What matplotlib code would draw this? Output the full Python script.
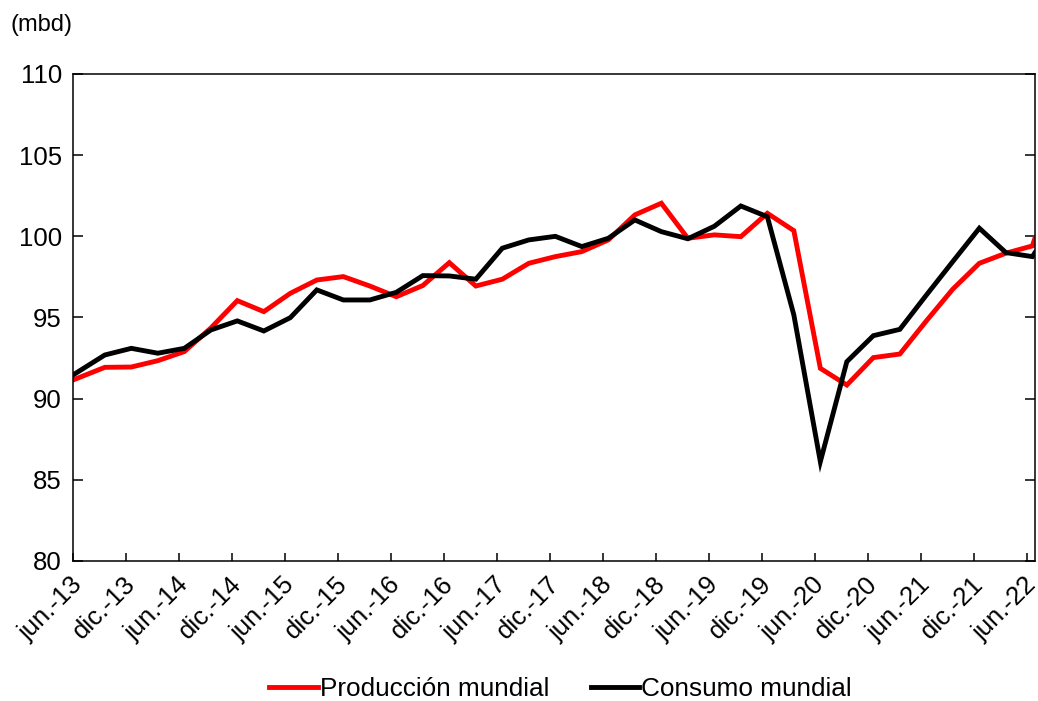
import numpy as np
import pandas as pd
import matplotlib
matplotlib.use('Agg')
import matplotlib.pyplot as plt
from matplotlib.transforms import ScaledTranslation

plt.rcParams['font.family'] = ['Liberation Sans', 'DejaVu Sans']

# quarterly world oil balance (mbd), Q3-2013 .. Q2-2022
quarters = pd.period_range('2013Q3', '2022Q2', freq='Q')

produccion = [91.93, 91.95, 92.34, 92.90, 94.35, 96.04, 95.36, 96.49, 97.31, 97.52,
              96.94, 96.28, 96.97, 98.38, 96.94, 97.36, 98.34, 98.75, 99.06, 99.78,
              101.32, 102.04, 99.88, 100.09, 99.98, 101.42, 100.35, 91.87, 90.84, 92.53,
              92.75, 94.79, 96.75, 98.34, 98.96, 99.41]
consumo = [92.69, 93.10, 92.80, 93.10, 94.23, 94.79, 94.17, 94.99, 96.70, 96.08,
           96.08, 96.55, 97.58, 97.56, 97.36, 99.27, 99.78, 100.00, 99.37, 99.88,
           101.01, 100.29, 99.85, 100.62, 101.87, 101.21, 95.16, 86.12, 92.28, 93.88,
           94.27, 96.38, 98.45, 100.50, 99.00, 98.75]

# values where the lines meet the left and right edges of the plot
edge_prod = [91.15, 99.90]
edge_cons = [91.46, 99.00]

tick_labels = ['jun.-13', 'dic.-13', 'jun.-14', 'dic.-14', 'jun.-15', 'dic.-15',
               'jun.-16', 'dic.-16', 'jun.-17', 'dic.-17', 'jun.-18', 'dic.-18',
               'jun.-19', 'dic.-19', 'jun.-20', 'dic.-20', 'jun.-21', 'dic.-21', 'jun.-22']

# x in months after jun-13; each quarter is dated mid last month
end_months = quarters.asfreq('M', 'end')
qx = np.array([(p.year - 2013) * 12 + p.month - 6 for p in end_months]) + 0.6
x_max = 108.9
x = np.r_[0, qx, x_max]
y_prod = np.r_[edge_prod[0], produccion, edge_prod[1]]
y_cons = np.r_[edge_cons[0], consumo, edge_cons[1]]

fig = plt.figure(figsize=(10.38, 7.01), dpi=100)
ax = fig.add_axes([73 / 1038, 1 - 561 / 701, (1035 - 73) / 1038, (561 - 74) / 701])

ax.plot(x, y_prod, color='#ff0000', lw=3.5, label='Producción mundial', solid_joinstyle='miter')
ax.plot(x, y_cons, color='black', lw=3.5, label='Consumo mundial', solid_joinstyle='miter')

ax.set_xlim(0, x_max)
ax.set_ylim(80, 110)
ax.set_yticks(np.arange(80, 111, 5))
ax.set_xticks(np.arange(0, 109, 6))
ax.set_xticklabels(tick_labels, rotation=45, ha='right', rotation_mode='anchor')

for s in ax.spines.values():
    s.set_linewidth(1.1)
ax.tick_params(axis='both', direction='in', labelsize=18.5, width=1.1)
ax.tick_params(axis='y', length=7, pad=8, right=True)
ax.tick_params(axis='x', length=5.5, pad=8)

# nudge x labels a little left so the last one stays inside the figure
shift = ScaledTranslation(-3 / 100, 0, fig.dpi_scale_trans)
for lab in ax.get_xticklabels():
    lab.set_transform(lab.get_transform() + shift)

fig.text(10 / 1038, 1 - 25 / 701, '(mbd)', fontsize=17, va='center', ha='left')

fig.legend(loc='center', bbox_to_anchor=(0.54, 1 - 689 / 701), ncol=2, frameon=False,
           fontsize=18.8, handlelength=1.85, handletextpad=0.08, columnspacing=1.6)

fig.savefig('out.png', dpi=100)
